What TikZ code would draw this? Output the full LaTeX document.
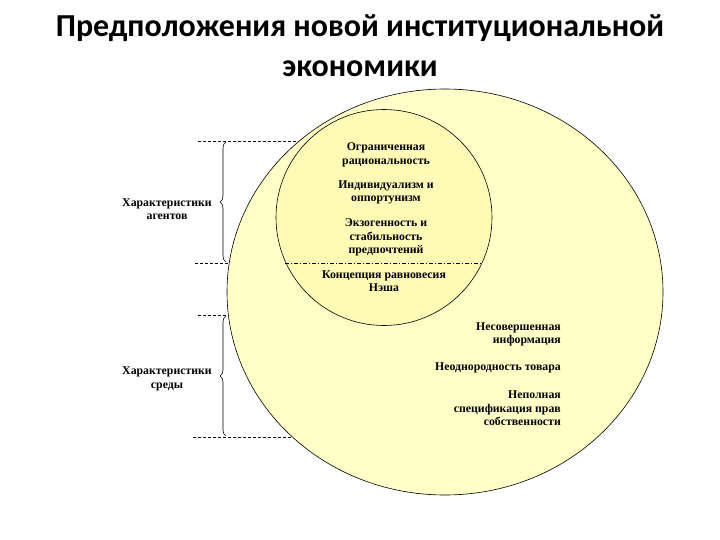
\documentclass[tikz,border=0pt]{standalone}
\usepackage{fontspec}
\setmainfont{Liberation Serif}
\newfontfamily\titlefont{Carlito}
\usetikzlibrary{shapes.geometric,decorations.pathreplacing}
\definecolor{outerfill}{RGB}{255,255,200}
\definecolor{innerfill}{RGB}{255,250,182}
\tikzset{
  lbl/.style={font=\bfseries\fontsize{11.8}{13.5}\selectfont, inner sep=0pt, align=center},
  lblr/.style={font=\bfseries\fontsize{11.8}{13.5}\selectfont, inner sep=0pt, align=right, anchor=east},
  ttl/.style={font=\titlefont\bfseries\fontsize{32}{38}\selectfont, inner sep=0pt, anchor=base},
  guide/.style={draw, line width=0.6pt, dash pattern=on 3pt off 2pt},
  split/.style={draw, line width=0.6pt, dash pattern=on 4pt off 2pt on 1pt off 2pt},
  bracket/.style={draw, line width=0.6pt, decorate, decoration={brace, amplitude=6pt}},
}
\begin{document}
\begin{tikzpicture}[x=1pt, y=-1pt]
\useasboundingbox (0,0) rectangle (720,540);
% title
\node[ttl] (title1) at (360,37) {Предположения новой институциональной};
\node[ttl] (title2) at (360,77) {экономики};
% circles
\node[ellipse, draw, line width=0.6pt, fill=outerfill, minimum width=436pt, minimum height=406pt, inner sep=0pt] (big) at (445,292) {};
\node[circle, draw, line width=0.6pt, fill=innerfill, minimum size=216pt, inner sep=0pt] (small) at (384,217.5) {};
% split line inside small circle
\coordinate (s1) at (285,263);
\coordinate (s2) at (481,263);
\draw[split] (s1) -- (s2);
% guide lines
\coordinate (g1a) at (198,141); \coordinate (g1b) at (299,141);
\coordinate (g2a) at (195,263); \coordinate (g2b) at (228,263);
\coordinate (g3a) at (198,315); \coordinate (g3b) at (228,315);
\coordinate (g4a) at (193,437); \coordinate (g4b) at (292,437);
\draw[guide] (g1a) -- (g1b);
\draw[guide] (g2a) -- (g2b);
\draw[guide] (g3a) -- (g3b);
\draw[guide] (g4a) -- (g4b);
% braces
\coordinate (b1t) at (226,142); \coordinate (b1b) at (226,262);
\coordinate (b2t) at (226,316); \coordinate (b2b) at (226,436);
\draw[bracket] (b1b) -- (b1t);
\draw[bracket] (b2b) -- (b2t);
% left labels
\node[lbl] (agents) at (167,209) {Характеристики\\агентов};
\node[lbl] (env) at (167,379) {Характеристики\\среды};
% inner labels
\node[lbl] (r1) at (386,155) {Ограниченная\\рациональность};
\node[lbl] (r2) at (386,192.5) {Индивидуализм и\\оппортунизм};
\node[lbl] (r3) at (386,237.5) {Экзогенность и\\стабильность\\предпочтений};
\node[lbl] (r4) at (384,281) {Концепция равновесия\\Нэша};
% outer labels
\node[lblr] (e1) at (561,334.5) {Несовершенная\\информация};
\node[lblr] (e2) at (561,368) {Неоднородность товара};
\node[lblr] (e3) at (561,408.5) {Неполная\\спецификация прав\\собственности};
\end{tikzpicture}
\end{document}
